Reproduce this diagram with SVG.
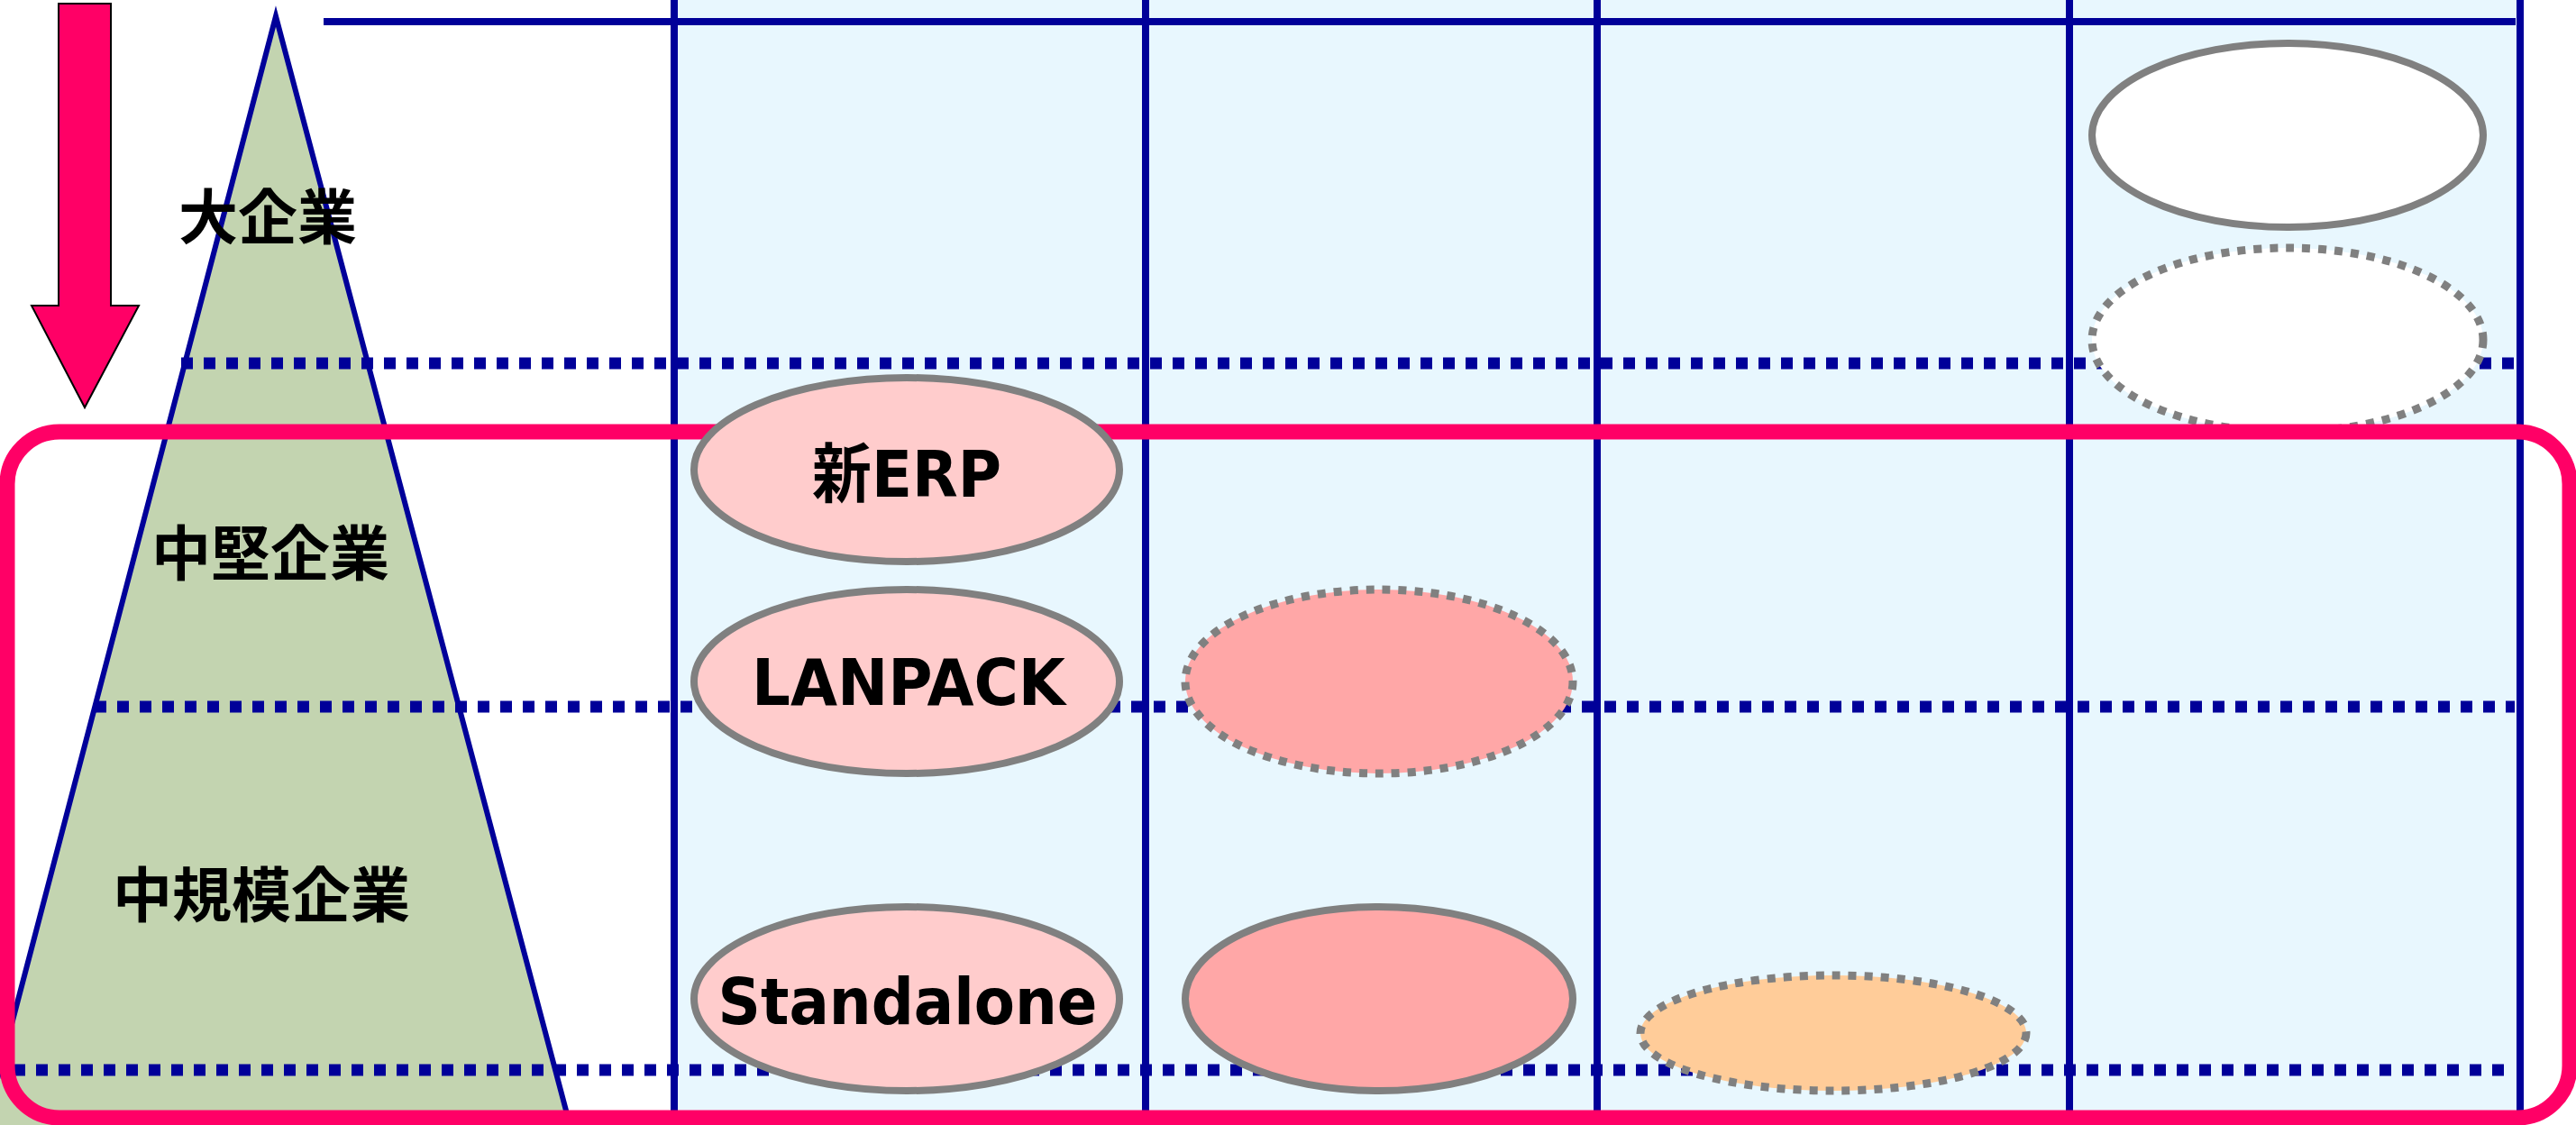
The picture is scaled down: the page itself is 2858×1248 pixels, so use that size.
<svg xmlns="http://www.w3.org/2000/svg" width="2858" height="1248" viewBox="0 0 2858 1248">
<style>
.grid{stroke:#000099;stroke-width:8;fill:none}
.dot{stroke:#000099;stroke-width:13;stroke-dasharray:13 12;fill:none}
.ell{stroke:#808080;stroke-width:8}
.ell-dot{stroke:#808080;stroke-width:9;stroke-dasharray:9 9}
.seg{font-family:"Noto Sans CJK JP","Noto Sans CJK SC",sans-serif;font-weight:bold;font-size:66px;fill:#000;text-anchor:middle}
.lbl{font-family:"DejaVu Sans","Noto Sans CJK JP",sans-serif;font-weight:bold;font-size:72px;fill:#000;text-anchor:middle}
</style>
<rect x="0" y="0" width="2858" height="1248" fill="#ffffff"/>
<rect id="matrix-bg" x="747" y="0" width="2049" height="1240" fill="#E8F7FE"/>
<g id="pyramid">
<polygon points="306,18 -20,1262 636,1262" fill="#C3D4B0" stroke="#000099" stroke-width="6"/>
</g>
<g id="grid">
<line class="grid" x1="359" y1="24" x2="2791" y2="24"/>
<line class="grid" x1="748" y1="0" x2="748" y2="1240"/>
<line class="grid" x1="1271" y1="0" x2="1271" y2="1240"/>
<line class="grid" x1="1772" y1="0" x2="1772" y2="1240"/>
<line class="grid" x1="2296" y1="0" x2="2296" y2="1240"/>
<line class="grid" x1="2796" y1="0" x2="2796" y2="1240"/>
<line class="dot" x1="201" y1="403" x2="2790" y2="403"/>
<line class="dot" x1="105" y1="784" x2="2790" y2="784"/>
<line class="dot" x1="15" y1="1187" x2="2790" y2="1187"/>
</g>
<g id="label-large">
<text class="seg" x="297" y="265">大企業</text>
</g>
<g id="label-mid">
<text class="seg" x="300" y="638">中堅企業</text>
</g>
<g id="label-midsize">
<text class="seg" x="290" y="1017">中規模企業</text>
</g>
<g id="ellipse-top-solid">
<ellipse class="ell" cx="2538" cy="150" rx="217" ry="102" fill="#ffffff"/>
</g>
<g id="ellipse-top-dotted">
<ellipse class="ell-dot" cx="2538" cy="377" rx="217" ry="102" fill="#ffffff"/>
</g>
<g id="target-frame">
<rect x="8" y="479" width="2843" height="761" rx="58" ry="58" fill="none" stroke="#FF0066" stroke-width="17"/>
</g>
<g id="node-new-erp">
<ellipse class="ell" cx="1006" cy="521" rx="236" ry="102" fill="#FFCCCC"/>
<text class="lbl" x="1006" y="551" textLength="210" lengthAdjust="spacingAndGlyphs">新ERP</text>
</g>
<g id="node-lanpack">
<ellipse class="ell" cx="1006" cy="756" rx="236" ry="102" fill="#FFCCCC"/>
<text class="lbl" x="1008" y="782" textLength="348" lengthAdjust="spacingAndGlyphs">LANPACK</text>
</g>
<g id="node-lanpack-next">
<ellipse class="ell-dot" cx="1530" cy="756" rx="215" ry="102" fill="#FFA7A7"/>
</g>
<g id="node-standalone">
<ellipse class="ell" cx="1006" cy="1108" rx="236" ry="102" fill="#FFCCCC"/>
<text class="lbl" x="1007" y="1136" textLength="421" lengthAdjust="spacingAndGlyphs">Standalone</text>
</g>
<g id="node-standalone-next">
<ellipse class="ell" cx="1530" cy="1108" rx="215" ry="102" fill="#FFA7A7"/>
</g>
<g id="node-orange">
<ellipse class="ell-dot" cx="2034" cy="1146" rx="214" ry="64" fill="#FFCC99"/>
</g>
<g id="arrow-down">
<polygon points="65,4 123,4 123,339 154,339 94,452 35,339 65,339" fill="#FF0066" stroke="#000000" stroke-width="2" stroke-linejoin="miter"/>
</g>
</svg>
